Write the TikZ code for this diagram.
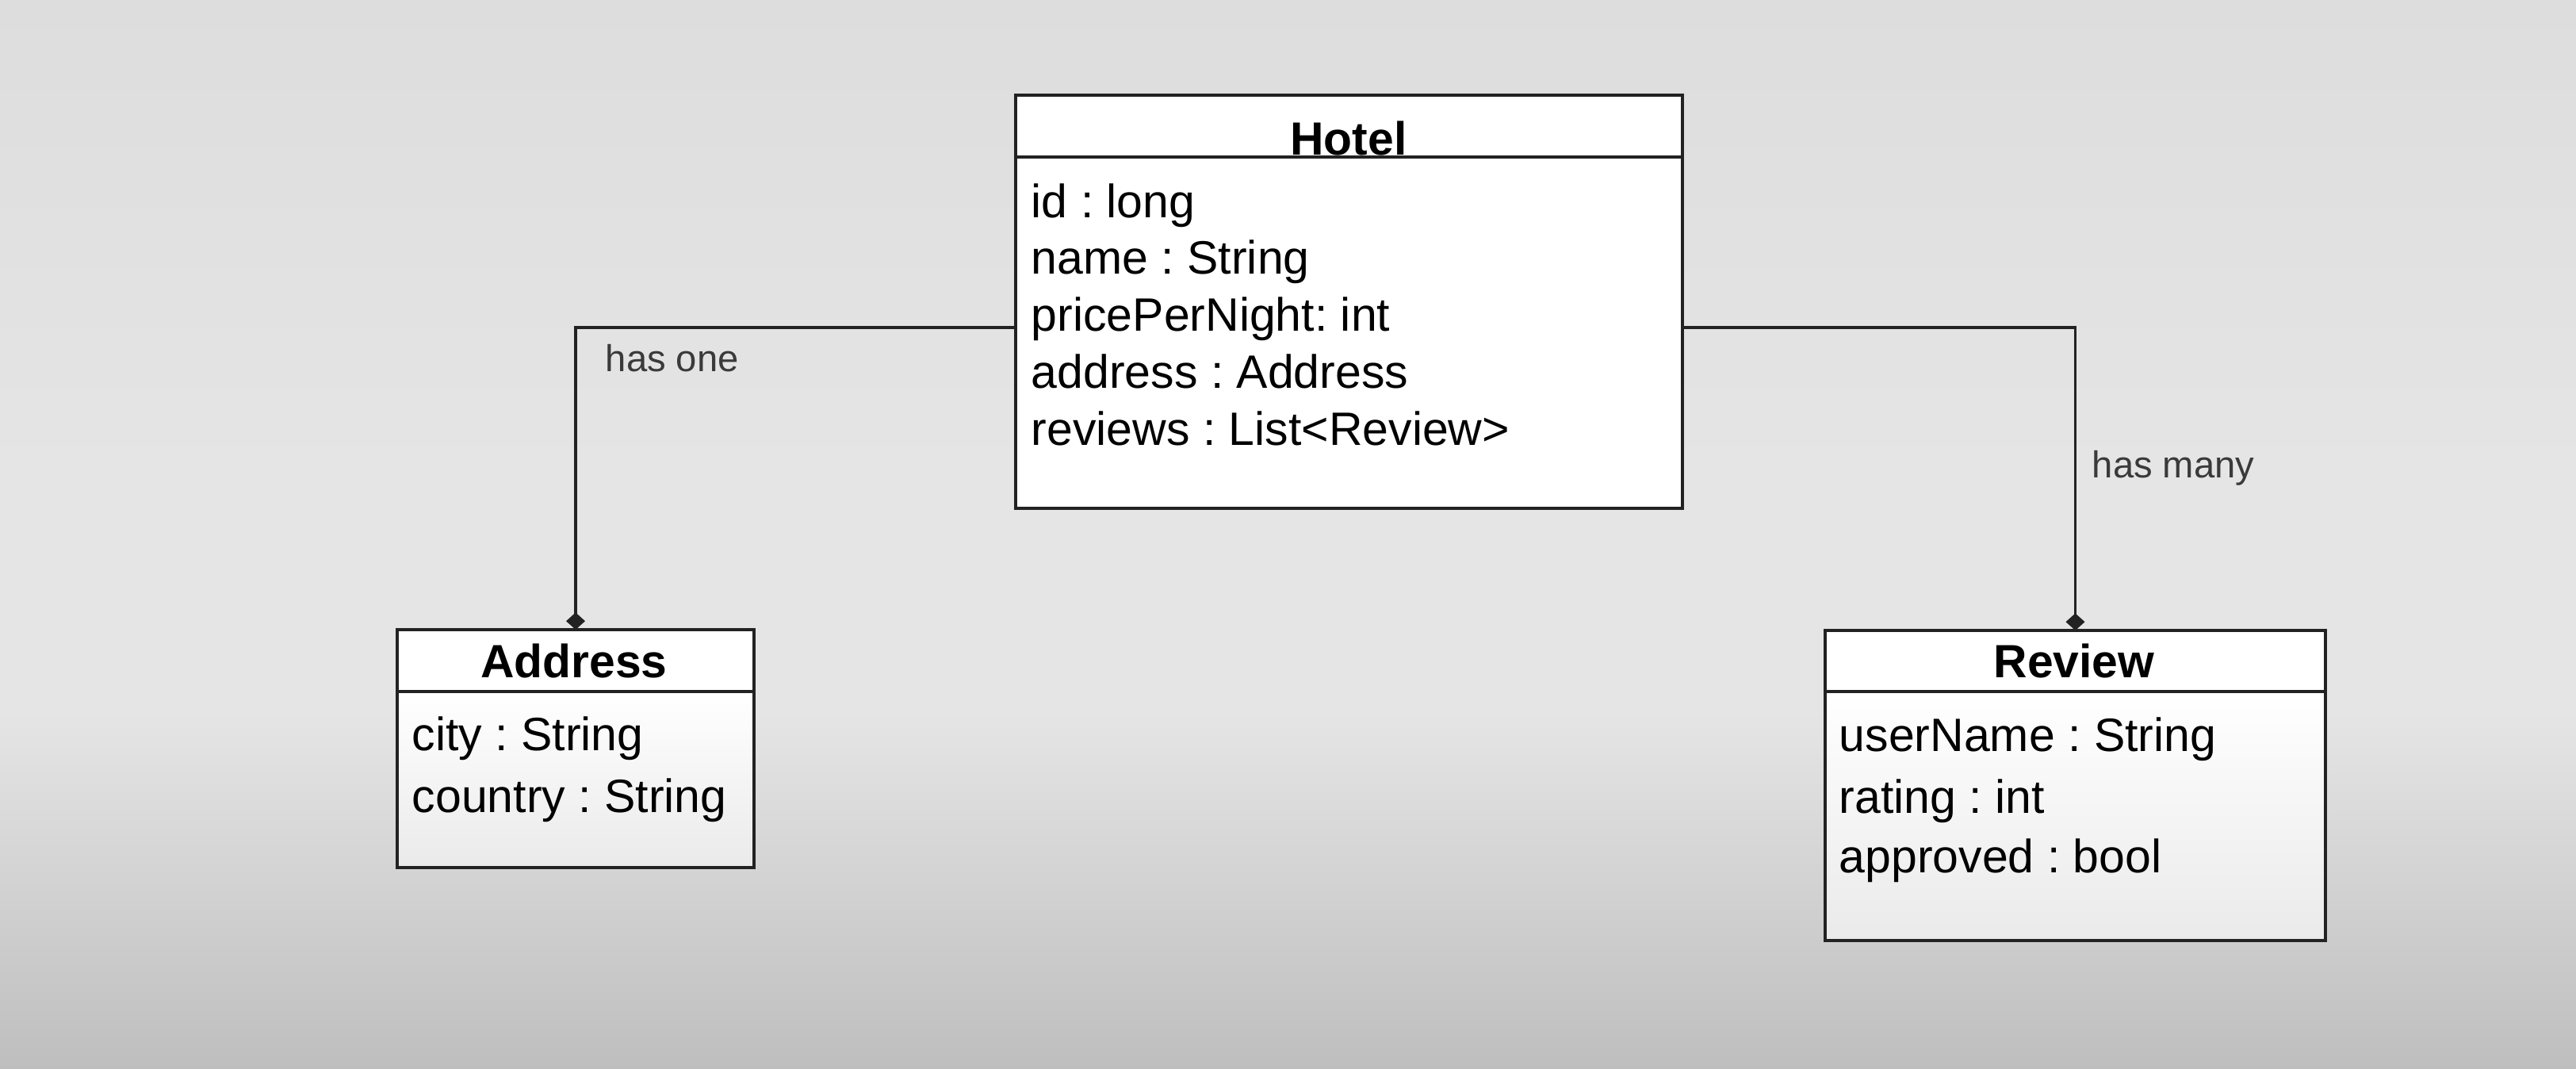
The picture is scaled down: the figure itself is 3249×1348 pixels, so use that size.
\documentclass[tikz,border=0pt]{standalone}
\usepackage{fontspec}
\setmainfont{Liberation Sans}
\frenchspacing
\usetikzlibrary{arrows.meta}
\definecolor{bgtop}{HTML}{DDDDDD}
\definecolor{bgmid}{HTML}{E5E5E5}
\definecolor{bgbot}{HTML}{BEBEBE}
\definecolor{linec}{HTML}{222222}
\definecolor{labelc}{HTML}{3A3A3A}
\definecolor{bodybot}{HTML}{EAEAEA}
\begin{document}
\begin{tikzpicture}[x=0.25pt,y=-0.25pt,
  classbox/.style={draw=linec, line width=1pt, inner sep=0pt, outer sep=0pt},
  sepline/.style={draw=linec, line width=1pt},
  titletext/.style={anchor=base, inner sep=0pt, font=\fontsize{14.7pt}{17pt}\selectfont\bfseries},
  attrtext/.style={anchor=base west, inner sep=0pt, font=\fontsize{14.75pt}{17pt}\selectfont},
  assoclabel/.style={anchor=base west, inner sep=0pt, text=labelc, font=\fontsize{11.8pt}{14pt}\selectfont},
  assoc/.style={draw=linec, line width=0.8pt, -{Diamond[length=5.4pt,width=6pt]}}]
% background
\useasboundingbox (0,0) rectangle (3249,1348);
\shade[top color=bgtop, bottom color=bgmid] (0,0) rectangle (3249,600);
\fill[bgmid] (0,599) rectangle (3249,901);
\shade[top color=bgmid, bottom color=bgbot] (0,900) rectangle (3249,1348);

% Hotel
\node[classbox, fill=white, minimum width=210.25pt, minimum height=130.25pt] (hotel) at (1701.5,380.5) {};
\draw[sepline] (hotel.west |- 0,198) -- (hotel.east |- 0,198);
\node[titletext] (hoteltitle) at (1701,196) {Hotel};
\node[attrtext] (h1) at (1300,275) {id : long};
\node[attrtext] (h2) at (1300,346) {name : String};
\node[attrtext] (h3) at (1300,418) {pricePerNight: int};
\node[attrtext] (h4) at (1300,489) {address : Address};
\node[attrtext] (h5) at (1300,561) {reviews : List<Review>};

% Address
\shade[top color=white, bottom color=bodybot] (501,872) rectangle (951,1094);
\fill[white] (501,794) rectangle (951,872);
\node[classbox, minimum width=112.5pt, minimum height=75pt] (address) at (726,944) {};
\draw[sepline] (address.west |- 0,872) -- (address.east |- 0,872);
\node[titletext] (addresstitle) at (724,854) {Address};
\node[attrtext] (a1) at (519,946) {city : String};
\node[attrtext] (a2) at (519,1024) {country : String};

% Review
\shade[top color=white, bottom color=bodybot] (2302,872) rectangle (2933,1186);
\fill[white] (2302,795) rectangle (2933,872);
\node[classbox, minimum width=157.75pt, minimum height=97.75pt] (review) at (2617.5,990.5) {};
\draw[sepline] (review.west |- 0,872) -- (review.east |- 0,872);
\node[titletext] (reviewtitle) at (2616,854) {Review};
\node[attrtext] (r1) at (2319,947) {userName : String};
\node[attrtext] (r2) at (2319,1025) {rating : int};
\node[attrtext] (r3) at (2319,1100) {approved : bool};

% connectors
\coordinate (lev) at (0,413);
\draw[assoc] (lev -| hotel.west) -| (address.north);
\draw[assoc] (lev -| hotel.east) -| (review.north);
\node[assoclabel] (hasone) at (763,469) {has one};
\node[assoclabel] (hasmany) at (2638,602) {has many};
\end{tikzpicture}
\end{document}
